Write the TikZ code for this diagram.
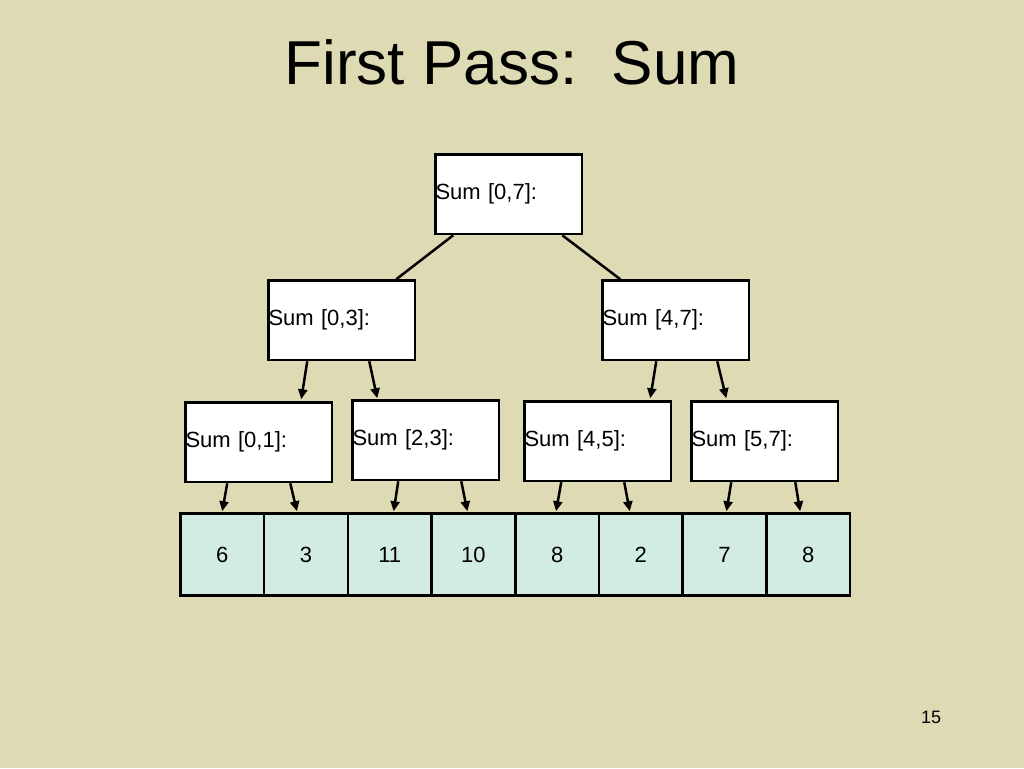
\documentclass[tikz,border=0pt]{standalone}
\usepackage{fontspec}
\setmainfont{Liberation Sans}
\usetikzlibrary{arrows.meta}
\definecolor{bg}{RGB}{221,218,180}
\definecolor{mint}{RGB}{211,236,225}
\begin{document}
\begin{tikzpicture}[x=1pt,y=-1pt,
  sumbox/.style={draw=black,line width=2.5pt,fill=white,anchor=north west,inner sep=0pt,
    text width=146.5pt,minimum height=79.5pt,align=left,font=\fontsize{22}{26}\selectfont},
  cell/.style={draw=black,line width=2.5pt,fill=mint,anchor=north west,inner sep=0pt,
    minimum width=83.7pt,minimum height=82pt,font=\fontsize{22}{26}\selectfont},
  edge/.style={line width=2.5pt},
  arr/.style={line width=2.5pt,-{Triangle[length=10pt,width=9pt]}}
]
\fill[bg] (0,0) rectangle (1024,768);
\useasboundingbox (0,0) rectangle (1024,768);
\node[font=\fontsize{62}{70}\selectfont] (title) at (512,62) {First Pass:\ \ Sum};
\node[sumbox] (s07) at (434.25,153.25) {Sum [0,7]:};
\node[sumbox] (s03) at (267.25,279.25) {Sum [0,3]:};
\node[sumbox] (s47) at (601.25,279.25) {Sum [4,7]:};
\node[sumbox] (s01) at (184.25,401.25) {Sum [0,1]:};
\node[sumbox] (s23) at (351.25,399.25) {Sum [2,3]:};
\node[sumbox] (s45) at (523.25,400.25) {Sum [4,5]:};
\node[sumbox] (s57) at (690.25,400.25) {Sum [5,7]:};
\node[cell] (c1) at (179.25,512.25) {6};
\node[cell] (c2) at (262.95,512.25) {3};
\node[cell] (c3) at (346.65,512.25) {11};
\node[cell] (c4) at (430.35,512.25) {10};
\node[cell] (c5) at (514.05,512.25) {8};
\node[cell] (c6) at (597.75,512.25) {2};
\node[cell] (c7) at (681.45,512.25) {7};
\node[cell] (c8) at (765.15,512.25) {8};
\node[font=\fontsize{18}{22}\selectfont] (pg) at (931,717) {15};
\draw[edge] ([xshift=19pt]s07.south west) -- ([xshift=129pt]s03.north west);
\draw[edge] ([xshift=128pt]s07.south west) -- ([xshift=19pt]s47.north west);
\draw[arr] ([xshift=40pt]s03.south west) -- ([xshift=117pt,yshift=2pt]s01.north west);
\draw[arr] ([xshift=102pt]s03.south west) -- ([xshift=26pt,yshift=1pt]s23.north west);
\draw[arr] ([xshift=55pt]s47.south west) -- ([xshift=127pt,yshift=2pt]s45.north west);
\draw[arr] ([xshift=116pt]s47.south west) -- ([xshift=36pt,yshift=2pt]s57.north west);
\draw[arr] ([xshift=43pt]s01.south west) -- ([xshift=43pt,yshift=1pt]c1.north west);
\draw[arr] ([xshift=106pt]s01.south west) -- ([xshift=34pt,yshift=1pt]c2.north west);
\draw[arr] ([xshift=47pt]s23.south west) -- ([xshift=47pt,yshift=1pt]c3.north west);
\draw[arr] ([xshift=110pt]s23.south west) -- ([xshift=37pt,yshift=1pt]c4.north west);
\draw[arr] ([xshift=38pt]s45.south west) -- ([xshift=42pt,yshift=1pt]c5.north west);
\draw[arr] ([xshift=101pt]s45.south west) -- ([xshift=32pt,yshift=1pt]c6.north west);
\draw[arr] ([xshift=41pt]s57.south west) -- ([xshift=45pt,yshift=1pt]c7.north west);
\draw[arr] ([xshift=105pt]s57.south west) -- ([xshift=35pt,yshift=1pt]c8.north west);
\end{tikzpicture}
\end{document}
